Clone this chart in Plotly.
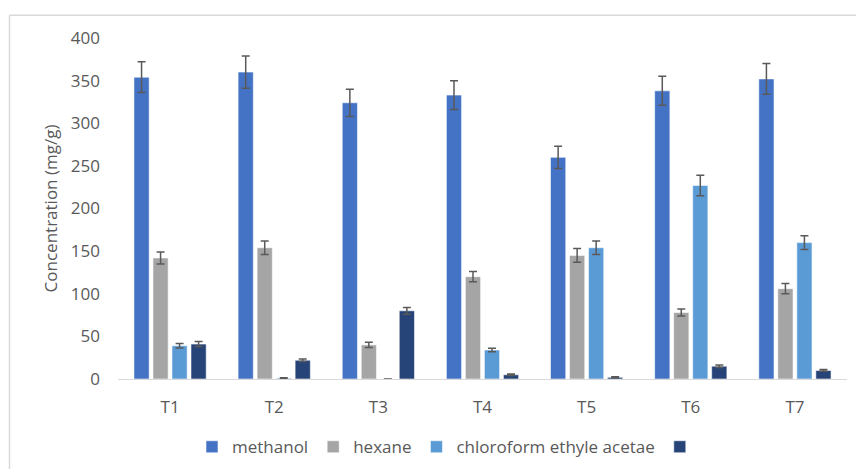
import plotly.graph_objects as go

# Treatments on the category axis
treatments = ["T1", "T2", "T3", "T4", "T5", "T6", "T7"]

# Extract concentrations (mg/g) per solvent
methanol = [354, 360, 324, 333, 260, 338, 352]
hexane = [142, 154, 40, 120, 145, 78, 106]
chloroform_ethyl_acetate = [39, 1, 0, 34, 154, 227, 160]
fourth_series = [41, 22, 80, 5, 2, 15, 10]

# Standard deviations for the error bars
methanol_err = [18, 19, 16, 17, 13, 17, 18]
hexane_err = [7, 8, 3, 6, 8, 4, 6]
chloroform_err = [2.5, 0.5, 0, 2, 8, 12, 8]
fourth_err = [3, 1.5, 4, 1, 0.5, 1.5, 1]

y_ticks = [0, 50, 100, 150, 200, 250, 300, 350, 400]

series = [
    ("methanol", methanol, methanol_err, "#4472C4"),
    ("hexane", hexane, hexane_err, "#A5A5A5"),
    ("chloroform ethyle acetae", chloroform_ethyl_acetate, chloroform_err, "#5B9BD5"),
    (" ", fourth_series, fourth_err, "#264478"),
]

fig = go.Figure()
for name, vals, errs, color in series:
    fig.add_trace(go.Bar(
        name=name,
        x=treatments,
        y=vals,
        marker=dict(color=color, line=dict(color="rgba(255,255,255,0.55)", width=1)),
        error_y=dict(type="data", array=errs, visible=True,
                     color="#595959", thickness=1.5, width=4),
    ))

W, H = 856, 474
L, R, T, B = 118, 9, 38, 91
plot_w = W - L - R
plot_h = H - T - B

def px_x(p):
    return (p - L) / plot_w

def px_y(p):
    return (H - B - p) / plot_h

text_color = "#595959"
font_family = "Open Sans, Noto Sans, sans-serif"
fs = 17

fig.update_layout(
    width=W, height=H,
    margin=dict(l=L, r=R, t=T, b=B),
    paper_bgcolor="white",
    plot_bgcolor="white",
    barmode="group",
    bargap=0.27,
    bargroupgap=0.2,
    font=dict(family=font_family, size=fs, color=text_color),
    showlegend=True,
    legend=dict(
        orientation="h",
        x=px_x(192), xanchor="left",
        y=px_y(452), yanchor="middle",
        font=dict(size=fs, color=text_color),
        itemwidth=30,
        traceorder="normal",
    ),
    xaxis=dict(
        showgrid=False,
        showline=True, linecolor="#D9D9D9", linewidth=1,
        ticks="", ticklabelstandoff=13,
        tickfont=dict(size=fs, color=text_color),
        zeroline=False,
    ),
    yaxis=dict(
        range=[0, 400],
        tickvals=y_ticks,
        showgrid=False, zeroline=False, showline=False,
        ticks="", ticklabelstandoff=17,
        tickfont=dict(size=fs, color=text_color),
        title=dict(text="Concentration (mg/g)", font=dict(size=fs, color=text_color), standoff=8),
    ),
    shapes=[
        # chart frame: top and left edges
        dict(type="line", xref="paper", yref="paper",
             x0=px_x(9.5), x1=px_x(W), y0=px_y(15), y1=px_y(15),
             line=dict(color="#D9D9D9", width=1.5)),
        dict(type="line", xref="paper", yref="paper",
             x0=px_x(9.5), x1=px_x(9.5), y0=px_y(15), y1=px_y(H),
             line=dict(color="#D9D9D9", width=1.5)),
    ],
)

fig.write_html("out.html")
